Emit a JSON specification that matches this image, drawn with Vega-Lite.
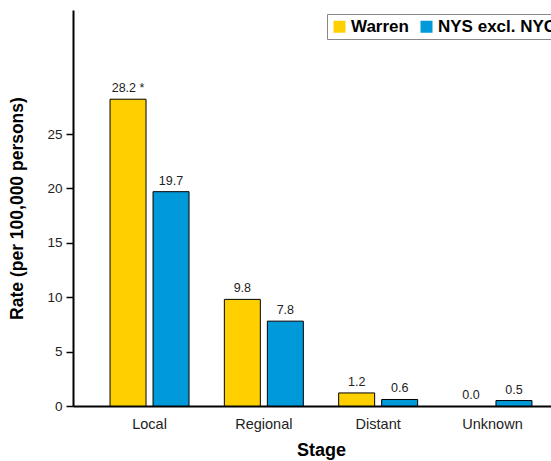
{
  "$schema": "https://vega.github.io/schema/vega-lite/v6.json",
  "autosize": {"type": "none"},
  "padding": {"left": 73, "top": 10, "right": 10, "bottom": 55},
  "width": 496,
  "height": 396,
  "config": {
    "font": "Liberation Sans",
    "view": {"stroke": null}
  },
  "data": {
    "values": [
      {"stage": "Local", "group": "Warren", "rate": 28.2, "label": "28.2 *"},
      {"stage": "Local", "group": "NYS excl. NYC", "rate": 19.7, "label": "19.7"},
      {"stage": "Regional", "group": "Warren", "rate": 9.8, "label": "9.8"},
      {"stage": "Regional", "group": "NYS excl. NYC", "rate": 7.8, "label": "7.8"},
      {"stage": "Distant", "group": "Warren", "rate": 1.2, "label": "1.2"},
      {"stage": "Distant", "group": "NYS excl. NYC", "rate": 0.6, "label": "0.6"},
      {"stage": "Unknown", "group": "Warren", "rate": 0.0, "label": "0.0"},
      {"stage": "Unknown", "group": "NYS excl. NYC", "rate": 0.5, "label": "0.5"}
    ]
  },
  "encoding": {
    "x": {
      "field": "stage",
      "type": "nominal",
      "sort": ["Local", "Regional", "Distant", "Unknown"],
      "scale": {"paddingInner": 0.309, "paddingOuter": 0.324},
      "axis": {
        "title": "Stage",
        "labelAngle": 0,
        "ticks": false,
        "labelFontSize": 14.5,
        "labelColor": "#222222",
        "labelPadding": 11,
        "titleFontSize": 18,
        "titleFontWeight": "bold",
        "titleColor": "#000000",
        "titlePadding": 11,
        "domainColor": "#000000",
        "domainWidth": 2
      }
    },
    "xOffset": {
      "field": "group",
      "type": "nominal",
      "sort": ["Warren", "NYS excl. NYC"],
      "scale": {"paddingInner": 0.163, "paddingOuter": 0}
    },
    "y": {
      "field": "rate",
      "type": "quantitative",
      "scale": {"domain": [0, 36.4], "nice": false},
      "axis": {
        "title": "Rate (per 100,000 persons)",
        "values": [0, 5, 10, 15, 20, 25],
        "grid": false,
        "tickSize": 7,
        "tickColor": "#000000",
        "tickWidth": 1.5,
        "labelFontSize": 13.5,
        "labelColor": "#222222",
        "labelPadding": 4,
        "titleFontSize": 17.5,
        "titleFontWeight": "bold",
        "titleColor": "#000000",
        "titlePadding": 20,
        "domainColor": "#000000",
        "domainWidth": 2
      }
    }
  },
  "layer": [
    {
      "mark": {"type": "bar", "strokeWidth": 1},
      "encoding": {
        "stroke": {
          "condition": {"test": "datum.rate == 0", "value": null},
          "value": "#000000"
        },
        "color": {
          "field": "group",
          "type": "nominal",
          "sort": ["Warren", "NYS excl. NYC"],
          "scale": {"domain": ["Warren", "NYS excl. NYC"], "range": ["#FFD000", "#0099DA"]},
          "legend": {
            "title": null,
            "orient": "none",
            "legendX": 254,
            "legendY": 4,
            "direction": "horizontal",
            "symbolType": "square",
            "symbolSize": 144,
            "symbolStrokeWidth": 0,
            "labelFontSize": 17,
            "labelFontWeight": "bold",
            "labelColor": "#000000",
            "labelOffset": 3,
            "columnPadding": 9,
            "padding": 4,
            "strokeColor": "#888888",
            "fillColor": "#ffffff"
          }
        }
      }
    },
    {
      "mark": {"type": "text", "baseline": "bottom", "dy": -4, "fontSize": 12.5, "color": "#222222"},
      "encoding": {"text": {"field": "label"}}
    }
  ]
}
